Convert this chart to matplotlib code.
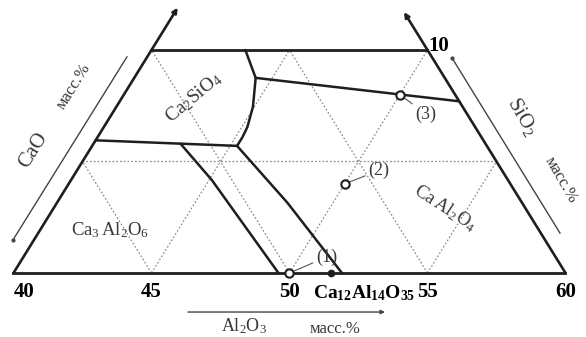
import matplotlib
matplotlib.use("Agg")
import matplotlib.pyplot as plt

plt.rcParams['font.family'] = ['Liberation Serif', 'DejaVu Serif']
plt.rcParams['mathtext.fontset'] = 'custom'
plt.rcParams['mathtext.rm'] = 'Liberation Serif'
plt.rcParams['mathtext.it'] = 'Liberation Serif:italic'
plt.rcParams['mathtext.bf'] = 'Liberation Serif:bold'

# compositions as (Al2O3, SiO2) in mass %, CaO is the rest
al_ticks = [40, 45, 50, 55, 60]
si_top = 10
grid_levels = [45, 50, 55]

liq_top = [(43.4, 10.0), (44.4, 8.75)]
c2s_ca = [(44.4, 8.75), (52.3, 7.7)]
c2s_curve = [(44.4, 8.75), (44.95, 7.45), (45.2, 6.55), (45.25, 6.1), (45.25, 5.7)]
c3a_top = [(40.0, 5.95), (45.25, 5.7)]
c3a_right = [(43.15, 5.8), (45.1, 4.17), (49.6, 0.0)]
c12a7_right = [(45.25, 5.7), (48.35, 3.15), (51.9, 0.0)]

pt_al = [50, 50, 50]
pt_si = [0.0, 4.0, 8.0]
pt_names = ['(1)', '(2)', '(3)']
c12a7_al = 51.5


def xy(al, si):
    return al + si / 2.0, si


fig = plt.figure(figsize=(5.86, 3.37), dpi=100)
ax = fig.add_axes([0, 0, 1, 1])
ax.set_xlim(39.511, 60.743)
ax.set_ylim(-2.870, 12.242)
ax.axis('off')

dark = '#1e1e1e'
grey = '#8c8c8c'
txt = '#3a3a3a'
dot = (0, (1.4, 1.6))


def line(pts, **kw):
    xs, ys = zip(*[xy(a, s) for a, s in pts])
    ax.plot(xs, ys, **kw)


# dotted 5 % grid inside the trapezoid
for c in grid_levels:
    s_end = min(si_top, 60 - c)
    line([(100 - c, 0), (100 - c - s_end, s_end)], color=grey, lw=0.9, ls=dot)
for a in grid_levels:
    s_end = min(si_top, 60 - a)
    line([(a, 0), (a, s_end)], color=grey, lw=0.9, ls=dot)
line([(40, 5), (55, 5)], color=grey, lw=0.9, ls=dot)

# trapezoid border, side edges carry on as axis arrows
line([(al_ticks[0], 0), (al_ticks[-1], 0)], color=dark, lw=2.0)
line([(40, si_top), (50, si_top)], color=dark, lw=2.0)
arr = dict(arrowstyle='-|>', color=dark, lw=1.9, mutation_scale=7, shrinkA=0, shrinkB=0)
ax.annotate('', xy=xy(40, 11.9), xytext=xy(40, 0), arrowprops=arr)
ax.annotate('', xy=xy(48.3, 11.7), xytext=xy(60, 0), arrowprops=arr)

# phase boundaries
for seg in [liq_top, c2s_ca, c2s_curve, c3a_top, c3a_right, c12a7_right]:
    line(seg, color=dark, lw=1.8, solid_capstyle='round')

# compositions studied
px, py = zip(*[xy(a, s) for a, s in zip(pt_al, pt_si)])
ax.plot(px, py, 'o', ms=6, mfc='white', mec=dark, mew=1.5, zorder=5)
ax.plot(*xy(c12a7_al, 0), 'o', ms=4.5, color=dark, zorder=5)

for (x0, y0), name, (tx, ty) in zip(zip(px, py), pt_names,
                                    [(51.35, 0.72), (53.25, 4.6), (54.95, 7.12)]):
    ax.annotate(name, xy=(x0, y0), xytext=(tx, ty), ha='center', va='center',
                fontsize=13, color=txt,
                arrowprops=dict(arrowstyle='-', color='#555555', lw=0.8,
                                shrinkA=0.5, shrinkB=3.5))

# bold tick labels
for a in al_ticks:
    ax.text(a, -0.85, str(a), ha='left' if a == 40 else 'center', va='center',
            fontsize=15, fontweight='bold', color='black')
ax.text(55.05, 10.2, '10', ha='left', va='center', fontsize=15,
        fontweight='bold', color='black')
ax.text(52.72, -0.9, r'$\mathbf{Ca_{12}Al_{14}O_{35}}$', ha='center', va='center',
        fontsize=14, color='black')

# phase fields
ax.text(46.54, 7.89, r'$\mathrm{Ca_2SiO_4}$', rotation=40, ha='center', va='center',
        fontsize=14, color=txt)
ax.text(43.50, 1.93, r'$\mathrm{Ca_3\,Al_2O_6}$', ha='center', va='center',
        fontsize=13.5, color=txt)
ax.text(55.63, 2.91, r'$\mathrm{Ca\,Al_2O_4}$', rotation=-33, ha='center', va='center',
        fontsize=13.5, color=txt)

# axis captions with thin direction lines
thin = dict(color='#444444', lw=1.0)
ax.plot([39.98, 44.11], [1.48, 9.69], **thin)
ax.plot(39.98, 1.48, 'o', ms=2, color='#444444')
ax.plot([55.89, 59.80], [9.64, 1.79], **thin)
ax.plot(55.89, 9.64, 'o', ms=2, color='#444444')
ax.annotate('', xy=(53.46, -1.75), xytext=(46.32, -1.75),
            arrowprops=dict(arrowstyle='-|>', color='#444444', lw=1.0,
                            mutation_scale=6, shrinkA=0, shrinkB=0))

ax.text(40.71, 5.52, 'CaO', rotation=58, ha='center', va='center', fontsize=15, color=txt)
ax.text(42.19, 8.39, 'масс.%', rotation=58, ha='center', va='center', fontsize=12, color=txt)
ax.text(58.42, 7.0, r'$\mathrm{SiO_2}$', rotation=-60, ha='center', va='center',
        fontsize=15, color=txt)
ax.text(59.84, 4.17, 'масс.%', rotation=-60, ha='center', va='center', fontsize=12, color=txt)
ax.text(48.35, -2.40, r'$\mathrm{Al_2O_3}$', ha='center', va='center', fontsize=13, color=txt)
ax.text(51.65, -2.50, 'масс.%', ha='center', va='center', fontsize=12, color=txt)

fig.savefig('out.png', dpi=100, facecolor='white')
